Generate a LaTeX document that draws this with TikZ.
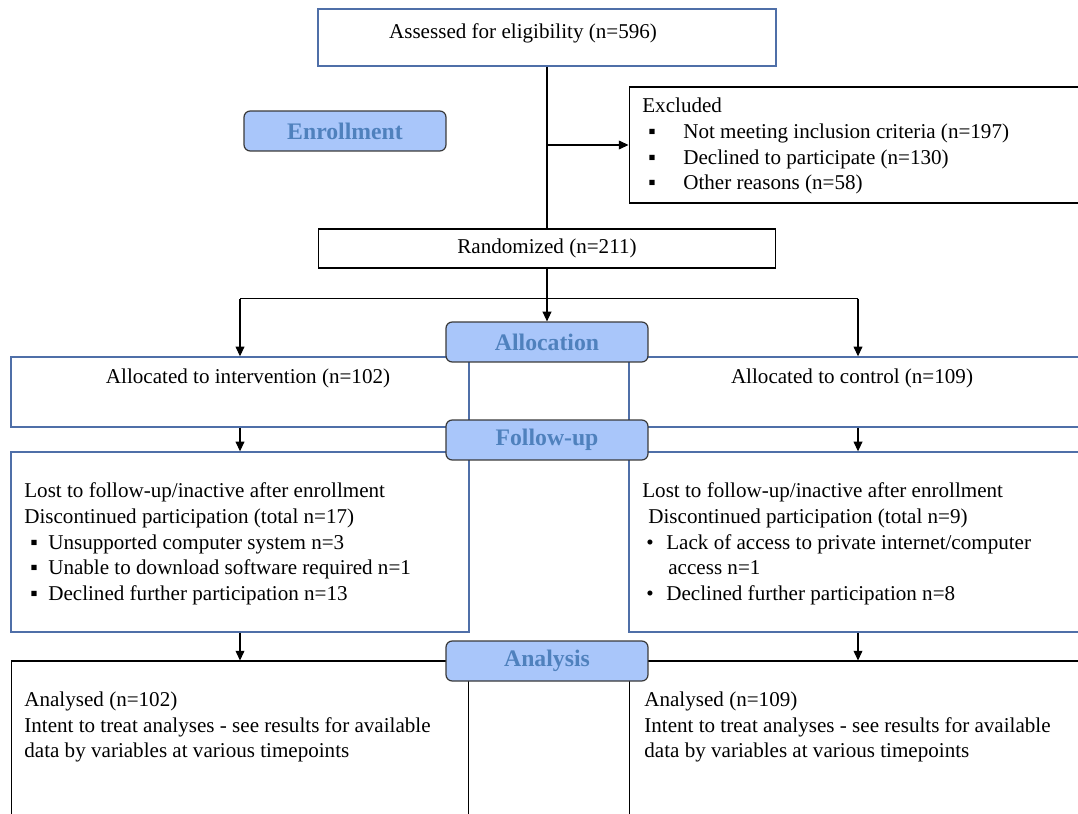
\documentclass[tikz,border=0pt]{standalone}
\usepackage{fontspec}
\setmainfont{Liberation Serif}
\usepackage{xcolor}
\usetikzlibrary{arrows.meta, positioning, calc}
\definecolor{boxblue}{HTML}{4F6FA8}
\definecolor{stagefill}{HTML}{A9C6FA}
\definecolor{stagetext}{HTML}{4F81BD}
\definecolor{stageline}{HTML}{3A3A3A}
\newcommand{\sqitem}[1]{\makebox[#1][l]{\hspace{0.12cm}▪}}
\newcommand{\dotitem}{\makebox[0.48cm][l]{\hspace{0.08cm}•}}

\begin{document}
\begin{tikzpicture}[
    x=0.02cm, y=-0.02cm,
    font=\fontsize{12}{14.6}\selectfont,
    flowbox/.style={rectangle, draw=boxblue, line width=0.8pt,
                    minimum width=9.16cm, inner sep=0pt},
    plainbox/.style={rectangle, draw=black, line width=0.6pt,
                     minimum width=9.16cm, inner sep=0pt},
    stage/.style={rectangle, rounded corners=3.5pt, draw=stageline,
                  line width=0.7pt, fill=stagefill,
                  minimum width=4.04cm, minimum height=0.8cm,
                  font=\fontsize{13.5}{15}\selectfont\bfseries, text=stagetext},
    txt/.style={inner sep=0pt, align=left, anchor=north west},
    arrow/.style={-{Triangle[length=5.5pt, width=5pt]}, line width=0.6pt},
  ]
  \clip (0,0) rectangle (1078,814);

  % Top — enrollment
  \node[flowbox, minimum height=1.14cm] (assess) at (547,37.5) {};
  \node[plainbox, minimum height=2.32cm] (excl) at (858,145) {};
  \node[plainbox, minimum height=0.78cm] (rand) at (547,248.5) {Randomized (n=211)};

  % Two arms
  \node[flowbox, minimum height=1.4cm] (interv) at (240,392) {};
  \node[flowbox, minimum height=1.4cm] (ctrl) at (858,392) {};
  \node[flowbox, minimum height=3.6cm] (fuL) at (240,542) {};
  \node[flowbox, minimum height=3.6cm] (fuR) at (858,542) {};
  \node[plainbox, minimum height=3.58cm] (anL) at (240,750.5) {};
  \node[plainbox, minimum height=3.58cm] (anR) at (858,750.5) {};

  % Stage labels
  \node[stage] (enroll) at (345,131) {Enrollment};
  \node[stage] (alloc) at (547,342) {Allocation};
  \node[stage] (follow) at (547,440) {Follow-up};
  \node[stage] (analysis) at (547,661) {Analysis};

  % Box texts
  \node (assesstxt) at (523,33) {Assessed for eligibility (n=596)};
  \node[txt] (excltxt) at (642,98) {Excluded\\
    \sqitem{0.82cm}Not meeting inclusion criteria (n=197)\\
    \sqitem{0.82cm}Declined to participate (n=130)\\
    \sqitem{0.82cm}Other reasons (n=58)};
  \node (intervtxt) at (248,378) {Allocated to intervention (n=102)};
  \node (ctrltxt) at (852,378) {Allocated to control (n=109)};
  \node[txt] (fuLtxt) at (24,482.5) {Lost to follow-up/inactive after enrollment\\
    Discontinued participation (total n=17)\\
    \sqitem{0.48cm}Unsupported computer system n=3\\
    \sqitem{0.48cm}Unable to download software required n=1\\
    \sqitem{0.48cm}Declined further participation n=13};
  \node[txt] (fuRtxt) at (642,482.5) {Lost to follow-up/inactive after enrollment\\
    \hspace*{0.12cm}Discontinued participation (total n=9)\\
    \dotitem Lack of access to private internet/computer\\
    \hspace*{0.52cm}access n=1\\
    \dotitem Declined further participation n=8};
  \node[txt] (anLtxt) at (24,691.5) {Analysed (n=102)\\
    Intent to treat analyses - see results for available\\
    data by variables at various timepoints};
  \node[txt] (anRtxt) at (644,691.5) {Analysed (n=109)\\
    Intent to treat analyses - see results for available\\
    data by variables at various timepoints};

  % Connectors
  \coordinate (branch) at (assess.south |- excl.west);
  \coordinate (split) at ($(rand.south)+(0,30)$);
  \draw[line width=0.6pt] (assess) -- (rand);
  \draw[arrow] (branch) -- (excl.west);
  \draw[line width=0.6pt] (rand) -- (split);
  \draw[arrow] (split) -- (alloc);
  \draw[line width=0.6pt] (split -| interv.north) -- (split -| ctrl.north);
  \draw[arrow] (split -| interv.north) -- (interv.north);
  \draw[arrow] (split -| ctrl.north) -- (ctrl.north);
  \draw[arrow] (interv) -- (fuL);
  \draw[arrow] (ctrl) -- (fuR);
  \draw[arrow] (fuL) -- (anL);
  \draw[arrow] (fuR) -- (anR);

\end{tikzpicture}
\end{document}
